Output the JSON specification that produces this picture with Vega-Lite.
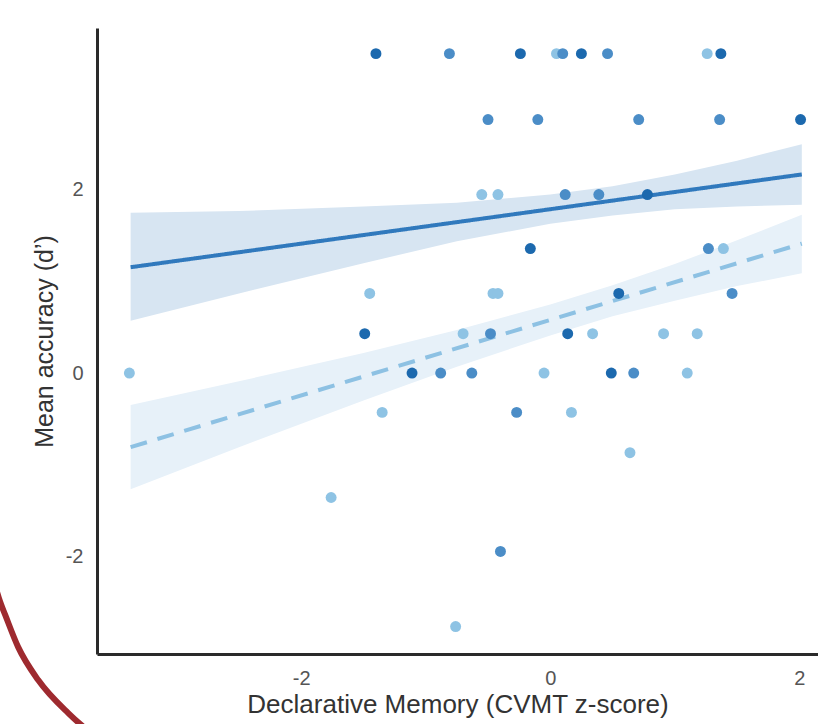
{
  "$schema": "https://vega.github.io/schema/vega-lite/v6.json",
  "width": 721,
  "height": 626,
  "autosize": {"type": "none"},
  "padding": {"left": 97, "top": 28, "right": 0, "bottom": 70},
  "background": "white",
  "config": {
    "view": {"stroke": null},
    "font": "Liberation Sans",
    "axis": {
      "domainColor": "#2a2a2a",
      "domainWidth": 3,
      "ticks": false,
      "grid": false,
      "labelFontSize": 20,
      "labelColor": "#555555",
      "labelPadding": 14,
      "titleFontSize": 25,
      "titleFontWeight": "normal",
      "titleColor": "#333333"
    }
  },
  "datasets": {
    "points": [
      {"x": -1.40, "y": 3.49, "grp": "A"},
      {"x": -0.81, "y": 3.49, "grp": "B"},
      {"x": -0.24, "y": 3.49, "grp": "A"},
      {"x": 0.05, "y": 3.49, "grp": "C"},
      {"x": 0.10, "y": 3.49, "grp": "B"},
      {"x": 0.25, "y": 3.49, "grp": "A"},
      {"x": 0.46, "y": 3.49, "grp": "B"},
      {"x": 1.26, "y": 3.49, "grp": "C"},
      {"x": 1.37, "y": 3.49, "grp": "A"},
      {"x": -0.50, "y": 2.77, "grp": "B"},
      {"x": -0.10, "y": 2.77, "grp": "B"},
      {"x": 0.71, "y": 2.77, "grp": "B"},
      {"x": 1.36, "y": 2.77, "grp": "B"},
      {"x": 2.01, "y": 2.77, "grp": "A"},
      {"x": -0.55, "y": 1.95, "grp": "C"},
      {"x": -0.42, "y": 1.95, "grp": "C"},
      {"x": 0.12, "y": 1.95, "grp": "B"},
      {"x": 0.39, "y": 1.95, "grp": "B"},
      {"x": 0.78, "y": 1.95, "grp": "A"},
      {"x": -0.16, "y": 1.36, "grp": "A"},
      {"x": 1.27, "y": 1.36, "grp": "B"},
      {"x": 1.39, "y": 1.36, "grp": "C"},
      {"x": -1.45, "y": 0.87, "grp": "C"},
      {"x": -0.46, "y": 0.87, "grp": "C"},
      {"x": -0.42, "y": 0.87, "grp": "C"},
      {"x": 0.55, "y": 0.87, "grp": "A"},
      {"x": 1.46, "y": 0.87, "grp": "B"},
      {"x": -1.49, "y": 0.43, "grp": "A"},
      {"x": -0.70, "y": 0.43, "grp": "C"},
      {"x": -0.48, "y": 0.43, "grp": "B"},
      {"x": 0.14, "y": 0.43, "grp": "A"},
      {"x": 0.34, "y": 0.43, "grp": "C"},
      {"x": 0.91, "y": 0.43, "grp": "C"},
      {"x": 1.18, "y": 0.43, "grp": "C"},
      {"x": -3.38, "y": 0, "grp": "C"},
      {"x": -1.11, "y": 0, "grp": "A"},
      {"x": -0.88, "y": 0, "grp": "B"},
      {"x": -0.63, "y": 0, "grp": "B"},
      {"x": -0.05, "y": 0, "grp": "C"},
      {"x": 0.49, "y": 0, "grp": "A"},
      {"x": 0.67, "y": 0, "grp": "B"},
      {"x": 1.10, "y": 0, "grp": "C"},
      {"x": -1.35, "y": -0.43, "grp": "C"},
      {"x": -0.27, "y": -0.43, "grp": "B"},
      {"x": 0.17, "y": -0.43, "grp": "C"},
      {"x": 0.64, "y": -0.87, "grp": "C"},
      {"x": -1.76, "y": -1.36, "grp": "C"},
      {"x": -0.40, "y": -1.95, "grp": "B"},
      {"x": -0.76, "y": -2.77, "grp": "C"}
    ],
    "bands": [
      {"fit": "solid", "x": -3.37, "lo": 0.57, "hi": 1.75},
      {"fit": "solid", "x": -2.5, "lo": 0.87, "hi": 1.77},
      {"fit": "solid", "x": -1.5, "lo": 1.20, "hi": 1.82},
      {"fit": "solid", "x": -0.75, "lo": 1.44, "hi": 1.86},
      {"fit": "solid", "x": 0, "lo": 1.63, "hi": 1.95},
      {"fit": "solid", "x": 0.5, "lo": 1.72, "hi": 2.04},
      {"fit": "solid", "x": 1.0, "lo": 1.79, "hi": 2.17},
      {"fit": "solid", "x": 1.5, "lo": 1.82, "hi": 2.32},
      {"fit": "solid", "x": 2.02, "lo": 1.84, "hi": 2.50},
      {"fit": "dashed", "x": -3.37, "lo": -1.27, "hi": -0.35},
      {"fit": "dashed", "x": -2.5, "lo": -0.81, "hi": -0.09},
      {"fit": "dashed", "x": -1.5, "lo": -0.30, "hi": 0.22},
      {"fit": "dashed", "x": -0.75, "lo": 0.07, "hi": 0.47},
      {"fit": "dashed", "x": 0, "lo": 0.41, "hi": 0.75},
      {"fit": "dashed", "x": 0.5, "lo": 0.62, "hi": 0.96},
      {"fit": "dashed", "x": 1.0, "lo": 0.79, "hi": 1.19},
      {"fit": "dashed", "x": 1.5, "lo": 0.95, "hi": 1.45},
      {"fit": "dashed", "x": 2.02, "lo": 1.09, "hi": 1.73}
    ],
    "fits": [
      {"fit": "solid", "x": -3.37, "y": 1.156},
      {"fit": "solid", "x": 2.02, "y": 2.17},
      {"fit": "dashed", "x": -3.37, "y": -0.81},
      {"fit": "dashed", "x": 2.02, "y": 1.414}
    ],
    "arc": [
      {"x": -4.45, "y": -2.36},
      {"x": -4.418, "y": -2.50},
      {"x": -4.378, "y": -2.64},
      {"x": -4.273, "y": -2.995},
      {"x": -4.112, "y": -3.355},
      {"x": -3.871, "y": -3.716},
      {"x": -3.775, "y": -3.836},
      {"x": -3.70, "y": -3.92}
    ]
  },
  "encoding": {
    "x": {
      "field": "x",
      "type": "quantitative",
      "scale": {"domain": [-3.64, 2.15], "nice": false, "zero": false},
      "axis": {
        "title": "Declarative Memory (CVMT z-score)",
        "titleFontSize": 26,
        "values": [-2, 0, 2],
        "titlePadding": 3,
        "labelExpr": "datum.value < 0 ? '-' + abs(datum.value) : '' + datum.value"
      }
    }
  },
  "layer": [
    {
      "data": {"name": "bands"},
      "mark": {"type": "area", "opacity": 1},
      "encoding": {
        "y": {
          "field": "lo",
          "type": "quantitative",
          "scale": {"domain": [-3.07, 3.77], "nice": false, "zero": false},
          "axis": {
            "title": "Mean accuracy (d’)",
            "values": [-2, 0, 2],
            "titlePadding": 8,
            "labelExpr": "datum.value < 0 ? '-' + abs(datum.value) : '' + datum.value"
          }
        },
        "y2": {"field": "hi"},
        "fill": {
          "field": "fit",
          "type": "nominal",
          "scale": {"domain": ["solid", "dashed"], "range": ["#d7e5f2", "#e7f1f9"]},
          "legend": null
        }
      }
    },
    {
      "data": {"name": "fits"},
      "mark": {"type": "line", "strokeWidth": 4},
      "encoding": {
        "y": {"field": "y", "type": "quantitative", "title": "Mean accuracy (d’)"},
        "stroke": {
          "field": "fit",
          "type": "nominal",
          "scale": {"domain": ["solid", "dashed"], "range": ["#3079bd", "#8dc1e3"]},
          "legend": null
        },
        "strokeDash": {
          "field": "fit",
          "type": "nominal",
          "scale": {"domain": ["solid", "dashed"], "range": [[1, 0], [17, 11]]},
          "legend": null
        }
      }
    },
    {
      "data": {"name": "points"},
      "mark": {"type": "circle", "size": 120, "opacity": 1},
      "encoding": {
        "y": {"field": "y", "type": "quantitative", "title": "Mean accuracy (d’)"},
        "color": {
          "field": "grp",
          "type": "nominal",
          "scale": {"domain": ["A", "B", "C"], "range": ["#1c69ae", "#4b8dc7", "#8ec3e4"]},
          "legend": null
        }
      }
    },
    {
      "data": {"name": "arc"},
      "mark": {"type": "line", "clip": false, "color": "#9e2a2f", "strokeWidth": 6, "interpolate": "monotone"},
      "encoding": {
        "y": {"field": "y", "type": "quantitative", "title": "Mean accuracy (d’)"},
        "order": {"field": "x", "type": "quantitative"}
      }
    }
  ]
}
